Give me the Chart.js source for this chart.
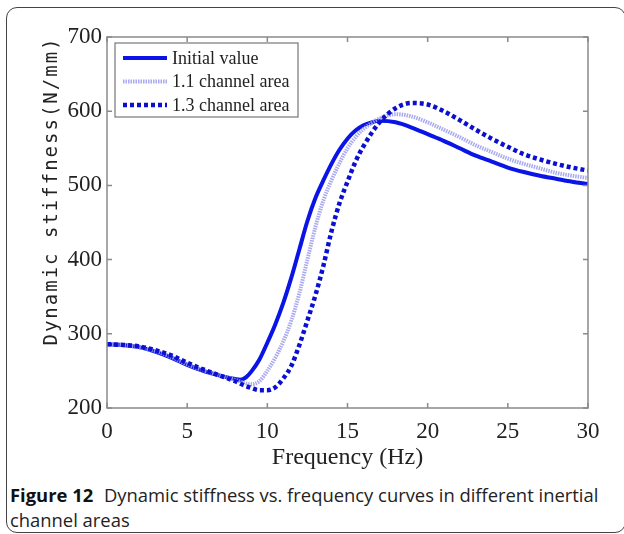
<!DOCTYPE html>
<html>
<head>
<meta charset="utf-8">
<script src="https://cdn.jsdelivr.net/npm/chart.js@4.4.1/dist/chart.umd.min.js"></script>
<style>
  html, body { margin: 0; padding: 0; background: #fff; }
  body { width: 624px; height: 534px; position: relative; overflow: hidden; }
  #frame {
    position: absolute; left: 6px; top: 7px; width: 620px; height: 526px;
    box-sizing: border-box; border: 1.5px solid #444; border-radius: 11px;
  }
  #wrap { position: absolute; left: 0; top: 0; width: 624px; height: 472px; }
  #caption {
    position: absolute; left: 10px; top: 482px; width: 614px;
    font-family: "Open Sans", sans-serif; font-size: 18.4px; line-height: 25px; color: #222;
  }
  #caption b { font-weight: 700; color: #111; margin-right: 6px; }
</style>
</head>
<body>
<div id="frame"></div>
<div id="wrap"><canvas id="stiffness"></canvas></div>
<div id="caption"><b>Figure 12</b> Dynamic stiffness vs. frequency curves in different inertial channel areas</div>
<script>
// values (Hz, N/mm)
var freqInit  = [0, 1, 2, 3, 4, 5, 6, 7, 8, 8.3, 8.7, 9, 9.5, 10, 10.5, 11, 11.5, 12, 12.5, 13, 13.5, 14, 14.5, 15, 15.5, 16, 16.5, 17, 18, 19, 20, 21, 22, 23, 24, 25, 26, 27, 28, 29, 30];
var stiffInit = [286, 285, 282, 276, 268, 258, 250, 244, 239, 238, 242, 249, 265, 288, 313, 342, 376, 414, 452, 483, 507, 529, 548, 563, 574, 581, 585, 587, 585, 578, 569, 560, 550, 540, 532, 524, 518, 513, 509, 505, 502];

var freq11  = [0, 1, 2, 3, 4, 5, 6, 7, 8, 8.5, 9, 9.5, 10, 10.5, 11, 11.5, 12, 12.5, 13, 13.5, 14, 14.5, 15, 15.5, 16, 17, 18, 19, 20, 21, 22, 23, 24, 25, 26, 27, 28, 29, 30];
var stiff11 = [286, 285, 282, 277, 269, 259, 251, 244, 238, 234, 232, 236, 250, 268, 290, 318, 355, 400, 444, 480, 507, 530, 550, 565, 576, 590, 596, 593, 585, 575, 565, 554, 545, 536, 529, 523, 517, 513, 510];

var freq13  = [0, 1, 2, 3, 4, 5, 6, 7, 8, 8.5, 9, 9.5, 10, 10.5, 11, 11.5, 12, 12.5, 13, 13.5, 14, 14.5, 15, 15.5, 16, 17, 18, 19, 20, 21, 22, 23, 24, 25, 26, 27, 28, 29, 30];
var stiff13 = [286, 285, 283, 278, 271, 261, 252, 244, 236, 231, 227, 224, 224, 228, 240, 257, 285, 318, 352, 392, 438, 476, 505, 532, 553, 585, 604, 611, 609, 600, 588, 575, 563, 552, 542, 535, 529, 524, 520];

var labels = ["Initial value", "1.1 channel area", "1.3 channel area"];
var xTicks = [0, 5, 10, 15, 20, 25, 30];
var yTicks = [200, 300, 400, 500, 600, 700];

function pts(xs, ys) {
  return xs.map(function(x, i) { return { x: x, y: ys[i] }; });
}

var serif = '"Liberation Serif", "Times New Roman", serif';

// box round the plot, inward tick marks, y title and the boxed legend
var matlabLook = {
  id: 'matlabLook',
  afterDraw: function(chart) {
    var ctx = chart.ctx;
    var a = chart.chartArea;
    var xs = chart.scales.x, ys = chart.scales.y;
    ctx.save();
    ctx.strokeStyle = '#8a8a8a';
    ctx.lineWidth = 1.5;
    ctx.strokeRect(a.left, a.top, a.right - a.left, a.bottom - a.top);
    ctx.beginPath();
    xTicks.forEach(function(t) {
      var px = xs.getPixelForValue(t);
      ctx.moveTo(px, a.bottom); ctx.lineTo(px, a.bottom - 5);
      ctx.moveTo(px, a.top); ctx.lineTo(px, a.top + 5);
    });
    yTicks.forEach(function(t) {
      var py = ys.getPixelForValue(t);
      ctx.moveTo(a.left, py); ctx.lineTo(a.left + 5, py);
      ctx.moveTo(a.right, py); ctx.lineTo(a.right - 5, py);
    });
    ctx.stroke();

    // y axis title
    ctx.save();
    ctx.translate(52, 191);
    ctx.rotate(-Math.PI / 2);
    ctx.fillStyle = '#222';
    ctx.font = '19px "DejaVu Sans Mono", monospace';
    ctx.letterSpacing = '2px';
    ctx.textAlign = 'center';
    ctx.textBaseline = 'middle';
    ctx.fillText('Dynamic stiffness(N/mm)', 0, 0);
    ctx.restore();

    // legend
    var lx = a.left + 8, ly = a.top + 6, lw = 183, lh = 74;
    ctx.fillStyle = '#fff';
    ctx.fillRect(lx, ly, lw, lh);
    ctx.strokeStyle = '#777';
    ctx.lineWidth = 1.2;
    ctx.strokeRect(lx, ly, lw, lh);
    ctx.font = '18px ' + serif;
    ctx.textBaseline = 'middle';
    ctx.textAlign = 'left';
    chart.data.datasets.forEach(function(ds, i) {
      var yy = ly + 15 + i * 23.5;
      ctx.save();
      ctx.strokeStyle = ds.borderColor;
      ctx.lineWidth = ds.borderWidth;
      ctx.setLineDash(ds.borderDash || []);
      ctx.beginPath();
      ctx.moveTo(lx + 8, yy);
      ctx.lineTo(lx + 52, yy);
      ctx.stroke();
      ctx.restore();
      ctx.fillStyle = '#222';
      ctx.fillText(ds.label, lx + 57, yy + 1);
    });
    ctx.restore();
  }
};

var chart = new Chart('stiffness', {
  type: 'line',
  data: {
    datasets: [
      {
        label: labels[0],
        data: pts(freqInit, stiffInit),
        borderColor: '#0a14e6',
        borderWidth: 4,
        order: 3
      },
      {
        label: labels[1],
        data: pts(freq11, stiff11),
        borderColor: 'rgba(160,160,238,0.9)',
        borderWidth: 4,
        borderDash: [1.5, 1],
        order: 2
      },
      {
        label: labels[2],
        data: pts(freq13, stiff13),
        borderColor: '#0a0fd0',
        borderWidth: 4.5,
        borderDash: [4, 3],
        order: 1
      }
    ]
  },
  options: {
    responsive: true,
    maintainAspectRatio: false,
    animation: false,
    layout: { padding: { left: 0, top: 37, right: 36, bottom: 0 } },
    elements: {
      point: { radius: 0 },
      line: { cubicInterpolationMode: 'monotone' }
    },
    plugins: {
      legend: { display: false },
      tooltip: { enabled: false }
    },
    scales: {
      x: {
        type: 'linear',
        min: 0,
        max: 30,
        afterBuildTicks: function(s) { s.ticks = xTicks.map(function(v) { return { value: v }; }); },
        afterFit: function(s) { s.height = 64; },
        grid: { display: false },
        border: { display: false },
        ticks: { color: '#222', padding: 2, font: { family: serif, size: 23 } },
        title: {
          display: true,
          text: 'Frequency (Hz)',
          color: '#222',
          padding: { top: -2, bottom: 0 },
          font: { family: serif, size: 24 }
        }
      },
      y: {
        min: 200,
        max: 700,
        afterBuildTicks: function(s) { s.ticks = yTicks.map(function(v) { return { value: v }; }); },
        afterFit: function(s) { s.width = 107; },
        grid: { display: false },
        border: { display: false },
        ticks: { color: '#222', padding: -3, font: { family: serif, size: 23 } }
      }
    }
  },
  plugins: [matlabLook]
});
</script>
</body>
</html>
